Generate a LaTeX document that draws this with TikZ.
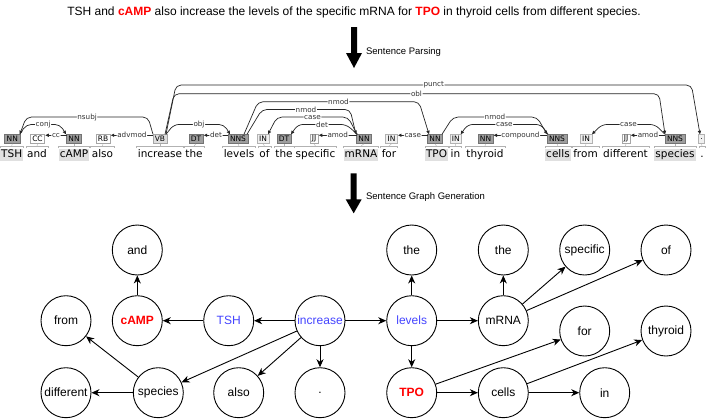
\documentclass[tikz,border=0pt]{standalone}
\usepackage{fontspec}
\setmainfont{Liberation Sans}
\newfontfamily\djv{DejaVu Sans}
\usetikzlibrary{arrows.meta,calc}
\definecolor{nblue}{RGB}{68,68,255}
\definecolor{nred}{RGB}{255,0,0}
\newcommand\darc[8]{\draw[arcl] ($(#1.north)+(#2,0)$) -- ($(#1.north)+(#3,#7-134.5)$) -- node[arclab]{#8} ($(#4.north)+(#5,#7-134.5)$) -- ($(#4.north)+(#6,0)$);}
\newcommand\larc[3]{\draw[arcl] ($(#1.north west)+(0.5,1)$) -- node[arclab]{#3} ($(#2.north east)+(0.3,1)$);}
\begin{document}
\begin{tikzpicture}[x=1pt,y=-1pt,
  gnode/.style={circle,draw,line width=0.9pt,minimum size=50pt,inner sep=0pt,font=\fontsize{12}{14}\selectfont},
  garr/.style={line width=0.9pt,-{Stealth[length=8pt,width=7pt,inset=2.5pt]}},
  tagbase/.style={rectangle,minimum height=9pt,inner xsep=2pt,inner ysep=0pt,font=\djv\fontsize{7.5}{8}\selectfont,line width=0.5pt},
  tgdark/.style={tagbase,fill=black!38,draw=black!55},
  tglight/.style={tagbase,fill=black!13,draw=black!35},
  tgin/.style={tagbase,fill=black!6,draw=black!30},
  tgwhite/.style={tagbase,fill=white,draw=black!35},
  word/.style={inner xsep=1pt,inner ysep=0.5pt,text height=8pt,text depth=2.5pt,font=\djv\fontsize{10.5}{12}\selectfont},
  wordhl/.style={word,fill=black!12},
  brk/.style={draw=black!30,line width=0.4pt},
  arcl/.style={line width=0.7pt,draw=black!85,rounded corners=5pt,-{Triangle[length=3.5pt,width=3.2pt]}},
  arclab/.style={fill=white,inner sep=0.6pt,font=\djv\fontsize{7.2}{8}\selectfont,text=black!80},
  bigarrow/.style={fill=black},
  steplab/.style={anchor=west,font=\fontsize{9.5}{11}\selectfont}]
\fill[white] (0,0) rectangle (708,418);
\useasboundingbox (0,0) rectangle (708,418);

% sentence
\node[font=\fontsize{12}{14}\selectfont] (sent) at (354,12.5) {TSH and {\color{nred}\bfseries cAMP} also increase the levels of the specific mRNA for {\color{nred}\bfseries TPO} in thyroid cells from different species.};

% step arrows
\fill[bigarrow] (351,27) -- (357,27) -- (357,53) -- (362,53) -- (354,68) -- (346,53) -- (351,53) -- cycle;
\node[steplab] (lp) at (362.5,52) {Sentence Parsing};
\fill[bigarrow] (350.7,173.3) -- (356.7,173.3) -- (356.7,199.3) -- (361.7,199.3) -- (353.7,213.3) -- (345.7,199.3) -- (350.7,199.3) -- cycle;
\node[steplab] (lg) at (362.5,197.3) {Sentence Graph Generation};

% words
\node[wordhl] (w1) at (11.7,155) {TSH};
\node[word] (w2) at (37,155) {and};
\node[wordhl] (w3) at (74,155) {cAMP};
\node[word] (w4) at (102.5,155) {also};
\node[word] (w5) at (160,155) {increase};
\node[word] (w6) at (194,155) {the};
\node[word] (w7) at (239,155) {levels};
\node[word] (w8) at (264.5,155) {of};
\node[word] (w9) at (284,155) {the};
\node[word] (w10) at (315.5,155) {specific};
\node[wordhl] (w11) at (361,155) {mRNA};
\node[word] (w12) at (389,155) {for};
\node[wordhl] (w13) at (436.5,155) {TPO};
\node[word] (w14) at (455.5,155) {in};
\node[word] (w15) at (485,155) {thyroid};
\node[wordhl] (w16) at (558,155) {cells};
\node[word] (w17) at (585.5,155) {from};
\node[word] (w18) at (625.5,155) {different};
\node[wordhl] (w19) at (675,155) {species};
\node[word] (w20) at (702,155) {.};

% tags
\node[tgdark] (t1) at (12.3,139) {NN};
\node[tgwhite] (t2) at (37.5,139) {CC};
\node[tgdark] (t3) at (74,139) {NN};
\node[tgwhite] (t4) at (103,139) {RB};
\node[tglight] (t5) at (160,139) {VB};
\node[tgdark] (t6) at (196,139) {DT};
\node[tgdark] (t7) at (238,139) {NNS};
\node[tgin] (t8) at (263,139) {IN};
\node[tgdark] (t9) at (284,139) {DT};
\node[tgwhite] (t10) at (314,139) {JJ};
\node[tgdark] (t11) at (364,139) {NN};
\node[tgin] (t12) at (391.5,139) {IN};
\node[tgdark] (t13) at (435,139) {NN};
\node[tgin] (t14) at (455.7,139) {IN};
\node[tgdark] (t15) at (485.5,139) {NN};
\node[tgdark] (t16) at (557,139) {NNS};
\node[tgin] (t17) at (586,139) {IN};
\node[tgwhite] (t18) at (626,139) {JJ};
\node[tgdark] (t19) at (675,139) {NNS};
\node[tgin] (t20) at (701.5,139) {.};

% brackets
\foreach \i in {1,...,20}{
  \draw[brk] ([yshift=1pt]w\i.north west) -- ([yshift=3pt]w\i.north west) -- ([yshift=3pt]w\i.north east) -- ([yshift=1pt]w\i.north east);
  \draw[brk] (t\i.south) -- ([yshift=3pt]w\i.north);
}

% dependency arcs
\darc{t5}{-7}{-12}{t1}{14}{7.5}{117.3}{nsubj}
\darc{t1}{7.5}{14}{t3}{-14}{-8}{124.7}{conj}
\larc{t3}{t2}{cc}
\larc{t5}{t4}{advmod}
\darc{t5}{6}{14}{t7}{-14}{-8}{124.7}{obj}
\larc{t7}{t6}{det}
\darc{t5}{5}{14}{t19}{-16}{-10}{94}{obl}
\darc{t5}{6}{16}{t20}{-10}{-1.5}{85.3}{punct}
\darc{t7}{6}{20}{t13}{-16}{-6}{102}{nmod}
\darc{t7}{9}{24}{t11}{-14}{-8}{109.7}{nmod}
\darc{t11}{-7}{-16}{t8}{14}{5}{117.3}{case}
\darc{t11}{-6.5}{-18}{t9}{14}{7}{124.7}{det}
\larc{t11}{t10}{amod}
\larc{t13}{t12}{case}
\darc{t13}{7}{18}{t16}{-20}{-10}{117.3}{nmod}
\darc{t16}{-9}{-16}{t14}{12}{5}{124.7}{case}
\larc{t16}{t15}{compound}
\darc{t19}{-10}{-20}{t17}{16}{6}{124.7}{case}
\larc{t19}{t18}{amod}

% sentence graph
\node[gnode] (and) at (137.3,250) {and};
\node[gnode,text=nred,font=\fontsize{12}{14}\selectfont\bfseries] (camp) at (137.3,320.7) {cAMP};
\node[gnode] (from) at (66,320.7) {from};
\node[gnode,text=nblue] (tsh) at (228.7,320.7) {TSH};
\node[gnode,text=nblue] (inc) at (320,320.7) {increase};
\node[gnode] (diff) at (66,392.7) {different};
\node[gnode] (spec) at (158.3,392.7) {species};
\node[gnode] (also) at (238.7,392.7) {also};
\node[gnode] (dot) at (320,392.7) {.};
\node[gnode] (the1) at (411.7,250) {the};
\node[gnode] (the2) at (503.3,250) {the};
\node[gnode] (specif) at (584.7,250) {specific};
\node[gnode] (of) at (666,250) {of};
\node[gnode,text=nblue] (lev) at (411.7,320.7) {levels};
\node[gnode] (mrna) at (503.3,320.7) {mRNA};
\node[gnode] (for) at (584.7,331) {for};
\node[gnode] (thy) at (666,331) {thyroid};
\node[gnode,text=nred,font=\fontsize{12}{14}\selectfont\bfseries] (tpo) at (411.7,392.7) {TPO};
\node[gnode] (cells) at (503.3,392.7) {cells};
\node[gnode] (in) at (604.7,392.7) {in};

\draw[garr] (inc) -- (tsh);
\draw[garr] (tsh) -- (camp);
\draw[garr] (camp) -- (and);
\draw[garr] (inc) -- (spec);
\draw[garr] (inc) -- (also);
\draw[garr] (inc) -- (dot);
\draw[garr] (spec) -- (from);
\draw[garr] (spec) -- (diff);
\draw[garr] (inc) -- (lev);
\draw[garr] (lev) -- (the1);
\draw[garr] (lev) -- (mrna);
\draw[garr] (lev) -- (tpo);
\draw[garr] (mrna) -- (the2);
\draw[garr] (mrna) -- (specif);
\draw[garr] (mrna) -- (of);
\draw[garr] (tpo) -- (for);
\draw[garr] (tpo) -- (cells);
\draw[garr] (cells) -- (thy);
\draw[garr] (cells) -- (in);
\end{tikzpicture}
\end{document}
